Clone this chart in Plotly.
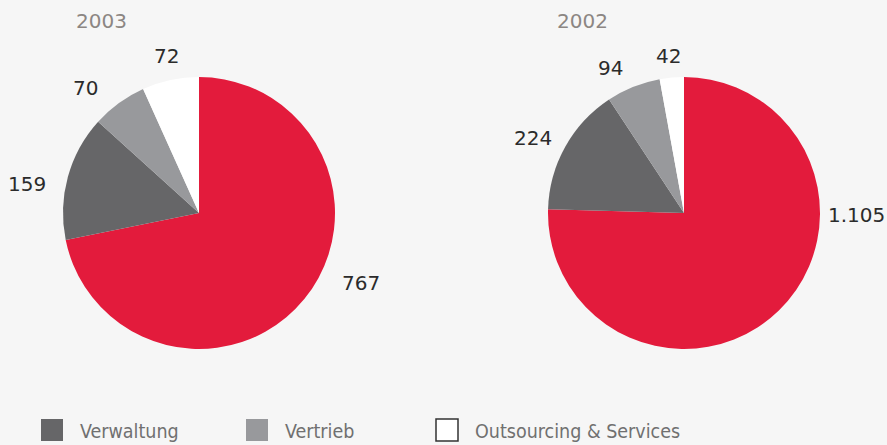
import plotly.graph_objects as go

# ---- data ----
categories = ["Personal", "Verwaltung", "Vertrieb", "Outsourcing & Services"]
values_2003 = [767, 159, 70, 72]
values_2002 = [1105, 224, 94, 42]
labels_2003 = ["767", "159", "70", "72"]
labels_2002 = ["1.105", "224", "94", "42"]
years = ["2003", "2002"]
legend_items = ["Verwaltung", "Vertrieb", "Outsourcing & Services"]

# ---- styles ----
W, H = 887, 445
BG = "#f6f6f6"
colors = ["#e31b3c", "#666668", "#98999c", "#ffffff"]
NUM_FONT = dict(family="DejaVu Sans", size=20, color="#2b2b2b")
YEAR_FONT = dict(family="DejaVu Sans", size=20, color="#8c8683")
LEG_FONT = dict(family="DejaVu Sans Condensed, Liberation Sans Narrow, sans-serif", size=19.5, color="#707070")

def px(x, y):
    return x / W, 1 - y / H

fig = go.Figure()
pies = [
    (values_2003, labels_2003, (63, 335)),
    (values_2002, labels_2002, (548, 820)),
]
for vals, labs, (x0, x1) in pies:
    fig.add_trace(go.Pie(
        labels=categories, values=vals, sort=False, direction="clockwise",
        rotation=0, marker=dict(colors=colors, line=dict(width=0)),
        textinfo="none", hoverinfo="label+value", showlegend=False,
        domain=dict(x=[x0 / W, x1 / W], y=[1 - 349 / H, 1 - 77 / H]),
    ))

# value labels (pixel anchor positions, in category order)
label_pos = [
    [(361, 283), (27, 184), (85, 88), (166, 56)],
    [(856, 215), (533, 138), (610, 68), (668, 56)],
]
for (vals, labs, _), poss in zip(pies, label_pos):
    for t, (x, y) in zip(labs, poss):
        xx, yy = px(x, y)
        fig.add_annotation(x=xx, y=yy, xref="paper", yref="paper", text=t,
                           showarrow=False, font=NUM_FONT, xanchor="center", yanchor="middle")

for yr, (x, y) in zip(years, [(101, 21), (582, 21)]):
    xx, yy = px(x, y)
    fig.add_annotation(x=xx, y=yy, xref="paper", yref="paper", text=yr,
                       showarrow=False, font=YEAR_FONT, xanchor="center", yanchor="middle")

# custom legend
leg_x = [41, 246, 436]
for name, lx, col in zip(legend_items, leg_x, colors[1:]):
    x0, y0 = px(lx, 441)
    x1, y1 = px(lx + 22, 419)
    fig.add_shape(type="rect", xref="paper", yref="paper", x0=x0, y0=y0, x1=x1, y1=y1,
                  fillcolor=col, line=dict(color="#333333" if col == "#ffffff" else col, width=1.5 if col == "#ffffff" else 0))
    tx, ty = px(lx + 37, 431)
    fig.add_annotation(x=tx, y=ty, xref="paper", yref="paper", text=name, showarrow=False,
                       font=LEG_FONT, xanchor="left", yanchor="middle")

fig.update_layout(width=W, height=H, margin=dict(l=0, r=0, t=0, b=0),
                  paper_bgcolor=BG, plot_bgcolor=BG)
fig.write_html("out.html", config={"displayModeBar": False},
               post_script="document.body.style.margin='0';document.body.style.overflow='hidden';")
